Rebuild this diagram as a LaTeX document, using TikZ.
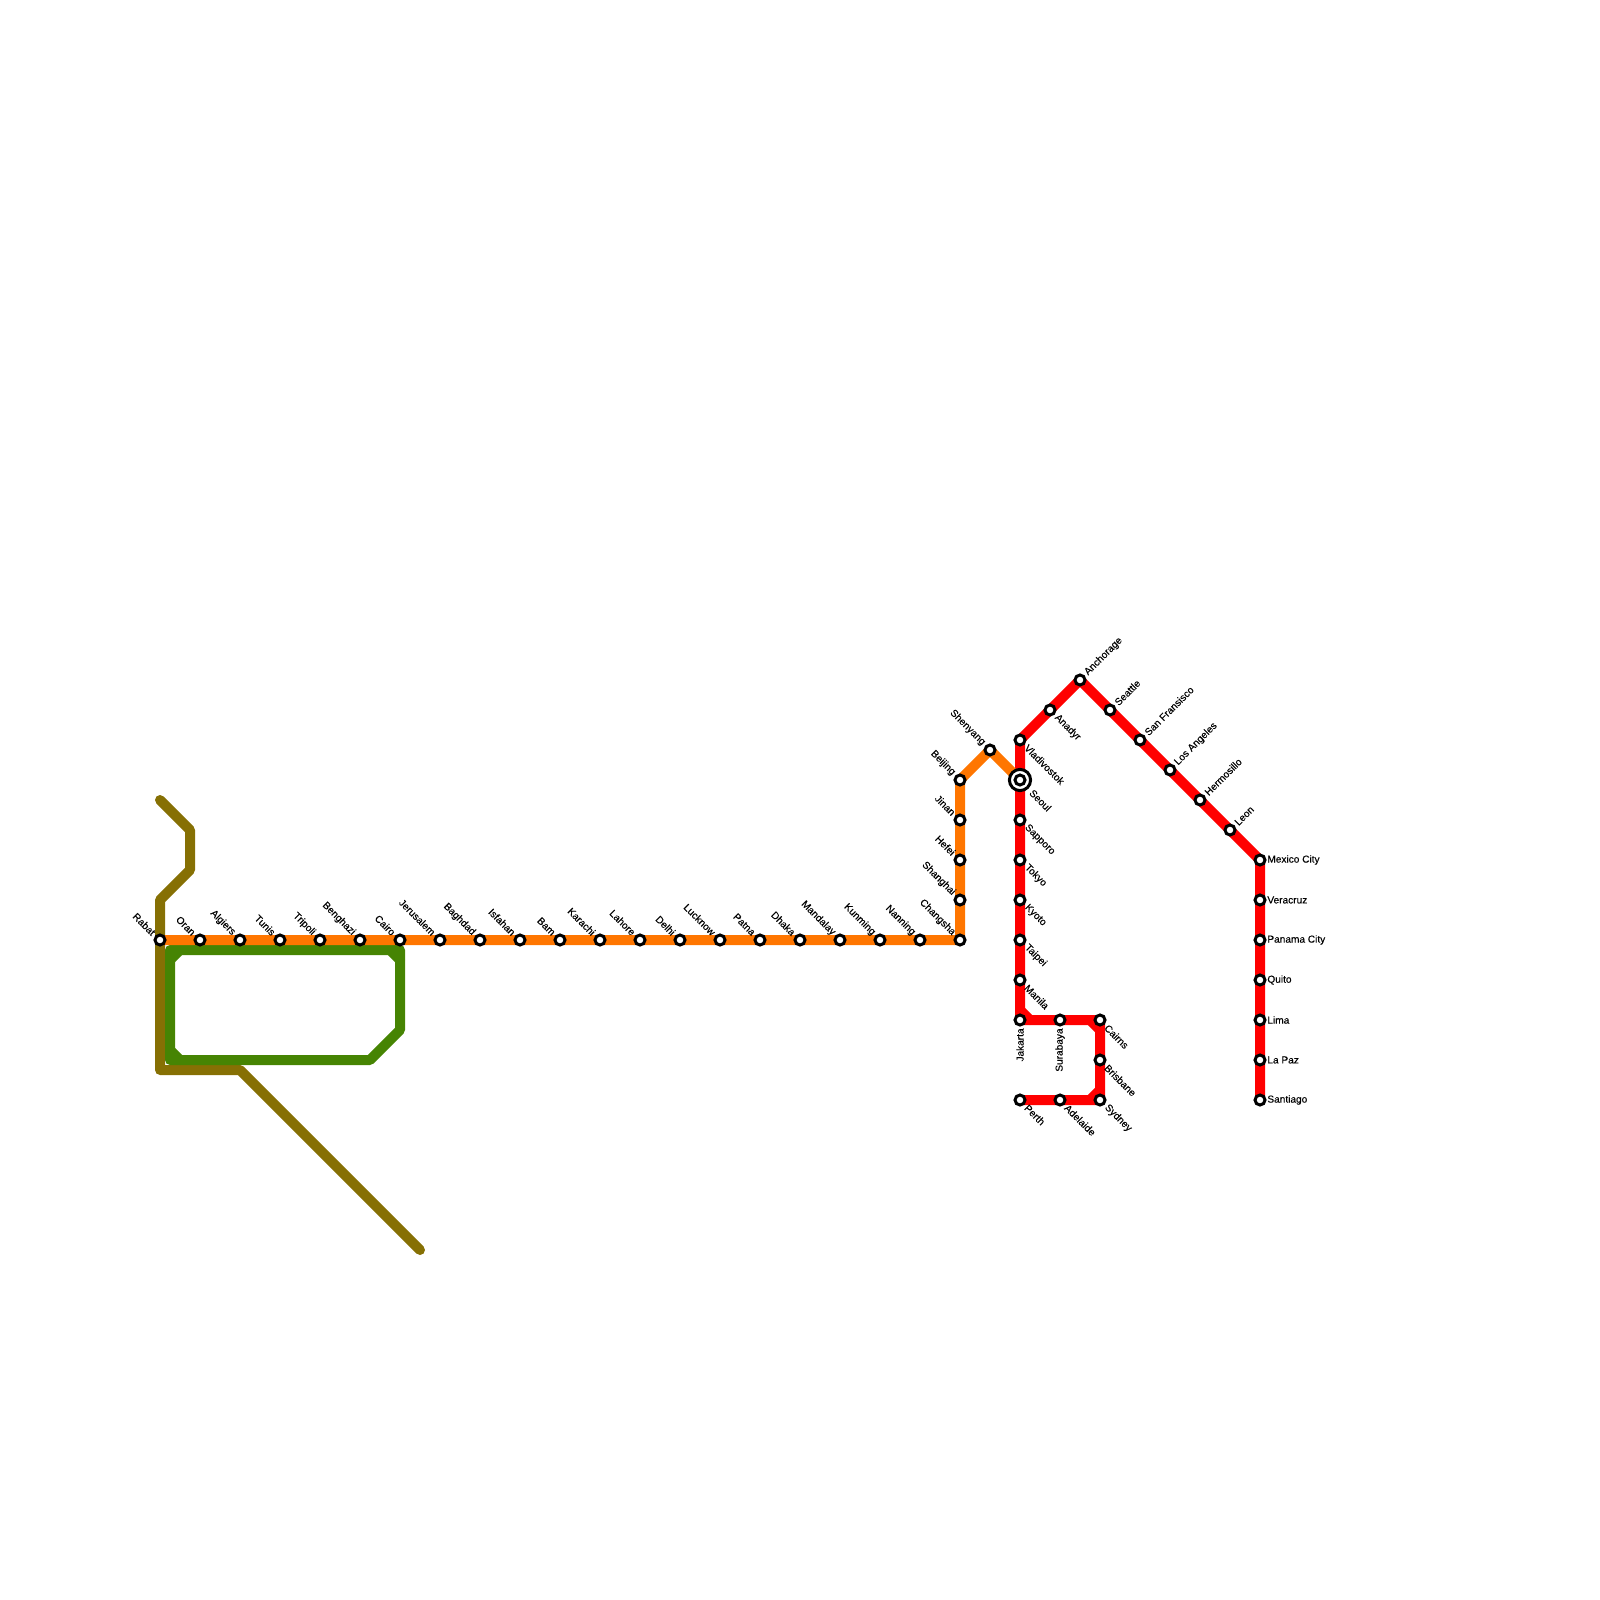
\documentclass[tikz,border=0pt]{standalone}
\usepackage{fontspec}
\setmainfont{Liberation Sans}
\newfontfamily\labfont[FakeBold=0.25]{Liberation Sans}
\tikzset{x=0.5pt,y=-0.5pt,
 mline/.style={line width=5pt,line cap=round,line join=round},
 stn/.style={circle,draw=black,fill=white,line width=1.5pt,minimum size=5pt,inner sep=0pt},
 inter/.style={circle,draw=black,fill=white,line width=1.5pt,minimum size=10.6pt,inner sep=0pt},
 lab/.style={font=\labfont\fontsize{5.05}{5.5}\selectfont,inner sep=0pt,text=black},
 lul/.style={lab,rotate=-45,anchor=east},
 llr/.style={lab,rotate=-45,anchor=west},
 lur/.style={lab,rotate=45,anchor=west},
 lr/.style={lab,anchor=west},
 ldn/.style={lab,rotate=90,anchor=east},
}
\definecolor{olive}{HTML}{867004}
\definecolor{orangeL}{HTML}{FF7600}
\definecolor{greenL}{HTML}{468403}
\definecolor{redL}{HTML}{FF0000}
\begin{document}
\begin{tikzpicture}
\useasboundingbox (0,0) rectangle (1600,1600);
% coordinates
\foreach \n/\x/\y in {rabat/160/940,oran/200/940,algiers/240/940,tunis/280/940,tripoli/320/940,benghazi/360/940,cairo/400/940,jerusalem/440/940,baghdad/480/940,isfahan/520/940,bam/560/940,karachi/600/940,lahore/640/940,delhi/680/940,lucknow/720/940,patna/760/940,dhaka/800/940,mandalay/840/940,kunming/880/940,nanning/920/940,changsha/960/940,shanghai/960/900,hefei/960/860,jinan/960/820,beijing/960/780,shenyang/990/750,seoul/1020/780,vladivostok/1020/740,anadyr/1050/710,anchorage/1080/680,seattle/1110/710,sanfr/1140/740,losang/1170/770,hermosillo/1200/800,leon/1230/830,mexico/1260/860,veracruz/1260/900,panama/1260/940,quito/1260/980,lima/1260/1020,lapaz/1260/1060,santiago/1260/1100,sapporo/1020/820,tokyo/1020/860,kyoto/1020/900,taipei/1020/940,manila/1020/980,jakarta/1020/1020,surabaya/1060/1020,cairns/1100/1020,brisbane/1100/1060,sydney/1100/1100,adelaide/1060/1100,perth/1020/1100}
 {\coordinate (c\n) at (\x,\y);}
\coordinate (o1) at (160,800);\coordinate (o2) at (190,830);\coordinate (o3) at (190,870);\coordinate (o4) at (160,900);
\coordinate (o5) at (160,1070);\coordinate (o6) at (240,1070);\coordinate (o7) at (420,1250);
\coordinate (g1) at (170,950);\coordinate (g2) at (400,950);\coordinate (g3) at (400,1030);\coordinate (g4) at (370,1060);\coordinate (g5) at (170,1060);
% olive
\draw[mline,olive] (o1)--(o2)--(o3)--(o4)--(crabat)--(o5)--(o6)--(o7);
% green
\draw[mline,greenL] (g1)--(g2)--(g3)--(g4)--(g5)--cycle;
\draw[mline,greenL] (170,960)--(180,950) (390,950)--(400,960) (170,1050)--(180,1060);
% red
\draw[mline,redL] (cperth)--(csydney)--(ccairns)--(cjakarta)--(cvladivostok)--(canchorage)--(cmexico)--(csantiago);
\draw[mline,redL] (1020,1010)--(1030,1020) (1090,1020)--(1100,1030) (1090,1100)--(1100,1090);
% orange
\draw[mline,orangeL] (crabat)--(cchangsha)--(cbeijing)--(cshenyang)--(cseoul);
% stations
\node[inter] (seoulO) at (cseoul) {};
\foreach \n in {rabat,oran,algiers,tunis,tripoli,benghazi,cairo,jerusalem,baghdad,isfahan,bam,karachi,lahore,delhi,lucknow,patna,dhaka,mandalay,kunming,nanning,changsha,shanghai,hefei,jinan,beijing,shenyang,seoul,vladivostok,anadyr,anchorage,seattle,sanfr,losang,hermosillo,leon,mexico,veracruz,panama,quito,lima,lapaz,santiago,sapporo,tokyo,kyoto,taipei,manila,jakarta,surabaya,cairns,brisbane,sydney,adelaide,perth}
 {\node[stn] (\n) at (c\n) {};}
% labels up-left
\foreach \n/\t in {rabat/Rabat,oran/Oran,algiers/Algiers,tunis/Tunis,tripoli/Tripoli,benghazi/Benghazi,cairo/Cairo,jerusalem/Jerusalem,baghdad/Baghdad,isfahan/Isfahan,bam/Bam,karachi/Karachi,lahore/Lahore,delhi/Delhi,lucknow/Lucknow,patna/Patna,dhaka/Dhaka,mandalay/Mandalay,kunming/Kunming,nanning/Nanning,changsha/Changsha,shanghai/Shanghai,hefei/Hefei,jinan/Jinan,beijing/Beijing,shenyang/Shenyang}
 {\node[lul] (l\n) at ([xshift=-3pt,yshift=3pt]c\n) {\t};}
% lower-right
\foreach \n/\t in {vladivostok/Vladivostok,anadyr/Anadyr,sapporo/Sapporo,tokyo/Tokyo,kyoto/Kyoto,taipei/Taipei,manila/Manila,cairns/Cairns,brisbane/Brisbane,sydney/Sydney,adelaide/Adelaide,perth/Perth}
 {\node[llr] (l\n) at ([xshift=3pt,yshift=-3pt]c\n) {\t};}
\node[llr] (lseoul) at ([xshift=5.5pt,yshift=-5.5pt]cseoul) {Seoul};
% upper-right
\foreach \n/\t in {anchorage/Anchorage,seattle/Seattle,sanfr/San Fransisco,losang/Los Angeles,hermosillo/Hermosillo,leon/Leon}
 {\node[lur] (l\n) at ([xshift=3pt,yshift=3pt]c\n) {\t};}
% right
\foreach \n/\t in {mexico/Mexico City,veracruz/Veracruz,panama/Panama City,quito/Quito,lima/Lima,lapaz/La Paz,santiago/Santiago}
 {\node[lr] (l\n) at ([xshift=3.5pt]c\n) {\t};}
% down
\node[ldn] (ljakarta) at ([yshift=-4pt]cjakarta) {Jakarta};
\node[ldn] (lsurabaya) at ([yshift=-4pt]csurabaya) {Surabaya};
\end{tikzpicture}
\end{document}
